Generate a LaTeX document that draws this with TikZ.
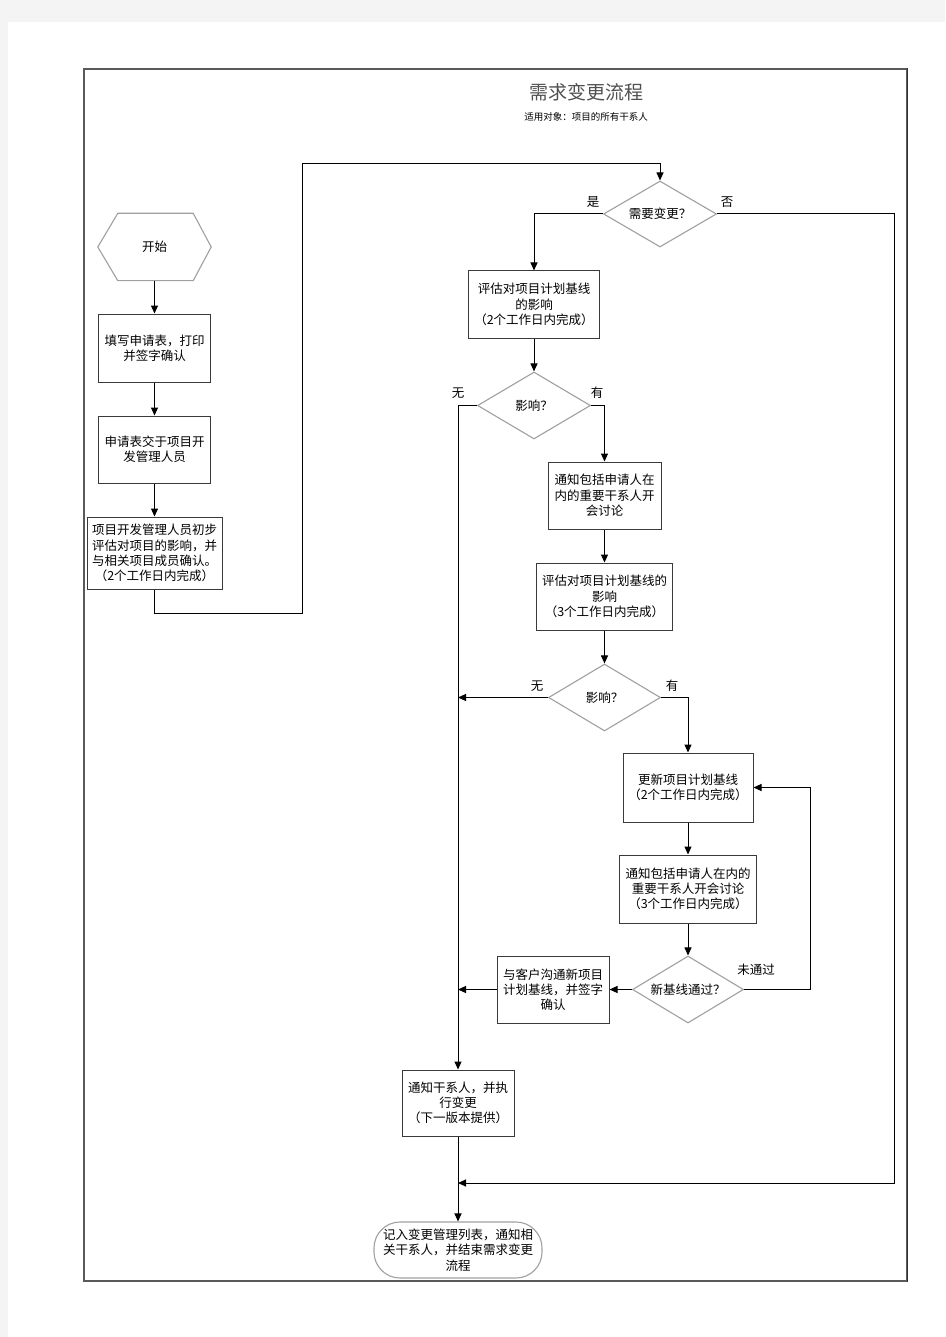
\documentclass[tikz,border=0pt]{standalone}
\usepackage{fontspec}
\setmainfont{Noto Sans CJK SC}
\usetikzlibrary{arrows.meta,shapes.geometric}
\definecolor{pagegray}{HTML}{F4F4F4}
\definecolor{boxline}{HTML}{3A3A3A}
\definecolor{dialine}{HTML}{A0A0A0}
\definecolor{framecol}{HTML}{5A5A5A}
\definecolor{titlecol}{HTML}{505050}
\begin{document}
\begin{tikzpicture}[x=1pt,y=-1pt,
  txt/.style={font=\fontsize{12.5}{15.3}\selectfont, align=center, inner sep=0pt},
  procbox/.style={txt, draw=boxline, line width=1pt, rectangle},
  decision/.style={txt, draw=dialine, line width=1.1pt, diamond, aspect=1.7},
  termbox/.style={txt, draw=dialine, line width=1.1pt, rectangle, rounded corners=26pt},
  lbl/.style={font=\fontsize{12.5}{15}\selectfont, inner sep=0pt},
  arr/.style={draw=black, line width=1pt, -{Triangle[length=8pt,width=7pt]}},
  conn/.style={draw=black, line width=1pt}
]
\useasboundingbox (0,0) rectangle (945,1337);
\fill[pagegray] (0,0) rectangle (945,1337);
\fill[white] (8,22) rectangle (945,1337);
% frame
\draw[framecol, line width=1.3pt] (84,69) rectangle (907,1281);
\draw[black!80, line width=1.6pt] (907.5,68.5) -- (907.5,1281.5);

% title
\node[inner sep=0pt, text=titlecol, font=\fontsize{19}{22}\selectfont] (title) at (586,92) {需求变更流程};
\node[inner sep=0pt, font=\fontsize{9.5}{11}\selectfont] (subtitle) at (586,117) {适用对象：项目的所有干系人};

% left column
\node[txt, minimum width=113pt, minimum height=67pt] (start) at (154.5,247) {开始};
\draw[dialine, line width=1.1pt] (start.west) -- ([xshift=20pt]start.north west) -- ([xshift=-18pt]start.north east) -- (start.east) -- ([xshift=-18pt]start.south east) -- ([xshift=20pt]start.south west) -- cycle;
\node[procbox, minimum width=112pt, minimum height=68pt] (b1) at (154.5,348) {填写申请表，打印\\并签字确认};
\node[procbox, minimum width=112pt, minimum height=67pt] (b2) at (154.5,449.5) {申请表交于项目开\\发管理人员};
\node[procbox, minimum width=135pt, minimum height=72pt] (b3) at (154.5,553) {项目开发管理人员初步\\评估对项目的影响，并\\与相关项目成员确认。\\（2个工作日内完成）};

% right part
\node[decision, minimum width=113pt, minimum height=66pt] (d1) at (660,214) {需要变更？};
\node[procbox, minimum width=131pt, minimum height=67pt] (b4) at (534,304.5) {评估对项目计划基线\\的影响\\（2个工作日内完成）};
\node[decision, minimum width=113pt, minimum height=67pt] (d2) at (534,405.5) {影响？};
\node[procbox, minimum width=113pt, minimum height=67pt] (b5) at (604.5,495.5) {通知包括申请人在\\内的重要干系人开\\会讨论};
\node[procbox, minimum width=136pt, minimum height=67pt] (b6) at (604.5,596.5) {评估对项目计划基线的\\影响\\（3个工作日内完成）};
\node[decision, minimum width=112pt, minimum height=67pt] (d3) at (604.5,697.5) {影响？};
\node[procbox, minimum width=130pt, minimum height=69pt] (b7) at (688,787.5) {更新项目计划基线\\（2个工作日内完成）};
\node[procbox, minimum width=137pt, minimum height=68pt] (b8) at (688,889) {通知包括申请人在内的\\重要干系人开会讨论\\（3个工作日内完成）};
\node[decision, minimum width=111pt, minimum height=67pt] (d4) at (688,989.5) {新基线通过？};
\node[procbox, minimum width=112pt, minimum height=67pt] (b9) at (553,989.5) {与客户沟通新项目\\计划基线，并签字\\确认};
\node[procbox, minimum width=112pt, minimum height=66pt] (b10) at (458,1103) {通知干系人，并执\\行变更\\（下一版本提供）};
\node[termbox, minimum width=168pt, minimum height=56pt] (end) at (458,1250) {记入变更管理列表，通知相\\关干系人，并结束需求变更\\流程};

% labels
\node[lbl] (lyes) at (593,202) {是};
\node[lbl] (lno) at (727,202) {否};
\node[lbl] (lnone1) at (458,393) {无};
\node[lbl] (lhas1) at (597,393) {有};
\node[lbl] (lnone2) at (537,686) {无};
\node[lbl] (lhas2) at (672,686) {有};
\node[lbl] (lfail) at (756,970) {未通过};

% helper coordinates
\coordinate (k1) at (302,613);
\coordinate (k2) at (302,164);
\coordinate (k3) at (894,1183);
\coordinate (k4) at (458,1183);
\coordinate (k5) at (458,697.5);
\coordinate (k6) at (810,787.5);
\coordinate (k7) at (458,989.5);

% connectors
\draw[arr] (start.south) -- (b1.north);
\draw[arr] (b1.south) -- (b2.north);
\draw[arr] (b2.south) -- (b3.north);
\draw[arr] (b3.south) |- (k1) -- (k2) -| (d1.north);
\draw[arr] (d1.west) -| (b4.north);
\draw[arr] (d1.east) -| (k3) -- (k4);
\draw[arr] (b4.south) -- (d2.north);
\draw[arr] (d2.west) -| (b10.north);
\draw[arr] (d2.east) -| (b5.north);
\draw[arr] (b5.south) -- (b6.north);
\draw[arr] (b6.south) -- (d3.north);
\draw[arr] (d3.west) -- (k5);
\draw[arr] (d3.east) -| (b7.north);
\draw[arr] (b7.south) -- (b8.north);
\draw[arr] (b8.south) -- (d4.north);
\draw[arr] (d4.east) -| (k6) -- (b7.east);
\draw[arr] (d4.west) -- (b9.east);
\draw[arr] (b9.west) -- (k7);
\draw[arr] (b10.south) -- (end.north);
\end{tikzpicture}
\end{document}
